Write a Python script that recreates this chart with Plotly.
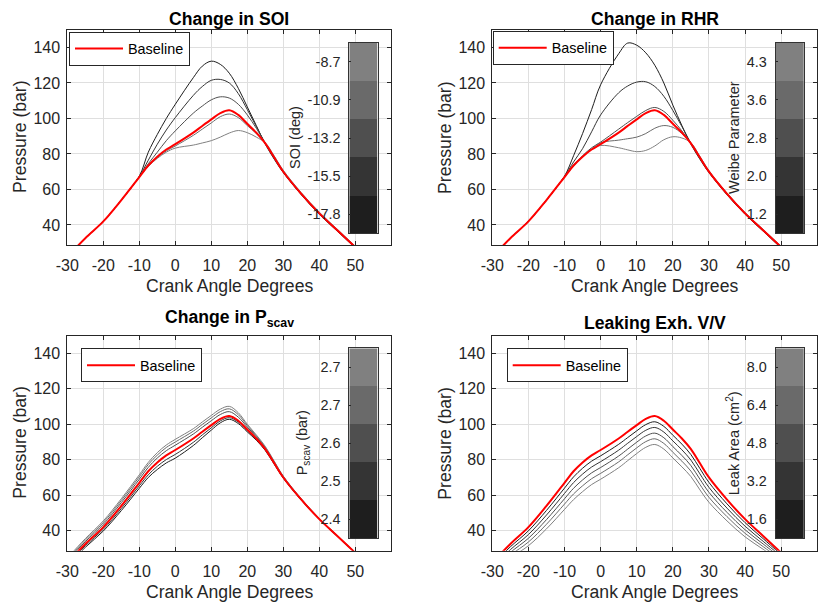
import plotly.graph_objects as go

# ---------------- data ----------------
ANGLE = [-30, -25, -20, -15, -10, -7.5, -5, -2.5, 0, 5, 7.5, 10, 12.5, 15, 17.5, 20, 22.5, 25, 27.5, 30, 35, 40, 45, 50]
BASELINE = [22, 32.5, 42, 54, 67, 73.5, 78.5, 82.5, 85.5, 92, 95.8, 99.5, 103, 104.6, 102, 97, 92, 86, 78, 70, 57.5, 46.5, 37, 27.5]

# Change in SOI (deg)
SOI_LABELS = ["-17.8", "-15.5", "-13.2", "-10.9", "-8.7"]
SOI_M17_8 = [22, 32.5, 42, 54, 67.5, 81, 91, 100, 108, 123, 129.5, 132.3, 130.5, 125.5, 117, 106.5, 96, 85.5, 77, 69.5, 57, 46, 36.5, 27]
SOI_M15_5 = [22, 32.5, 42, 54, 67.3, 76.5, 85.5, 93.5, 100.5, 113, 118, 121.5, 122, 120, 114, 105, 95.5, 86, 77.5, 69.7, 57.2, 46.2, 36.7, 27.2]
SOI_M13_2 = [22, 32.5, 42, 54, 67.2, 74.5, 81, 87.5, 93, 103, 107, 110.5, 112.2, 111.5, 108, 102, 94.5, 86, 77.8, 69.9, 57.4, 46.4, 36.9, 27.4]
SOI_M10_9 = [22, 32.5, 42, 54, 67, 73.2, 78, 81.7, 84.5, 90.5, 94, 97.5, 101, 102.5, 100.5, 96, 91.5, 86, 78.3, 70.3, 57.8, 46.8, 37.3, 27.8]
SOI_M8_7 = [22, 32.5, 42, 54, 67, 73, 77.5, 81, 83.3, 85, 86.2, 87.5, 89.5, 91.8, 93.2, 92, 89.5, 86.3, 78.8, 70.8, 58.2, 47.2, 37.6, 28]

# Change in RHR (Weibe parameter)
RHR_LABELS = ["1.2", "2.0", "2.8", "3.6", "4.3"]
RHR_1_2 = [22, 32.5, 42, 54, 67.5, 79, 91.5, 105, 119, 136.5, 142.5, 141.3, 137, 130, 120, 107.5, 96, 85.5, 77, 69.5, 57, 46, 36.5, 27]
RHR_2_0 = [22, 32.5, 42, 54, 67.3, 75.5, 83, 92.5, 102, 114.5, 118.3, 120.5, 120.7, 118, 112.5, 104.5, 95.5, 86, 77.5, 69.7, 57.2, 46.2, 36.7, 27.2]
RHR_2_8 = [22, 32.5, 42, 54, 67.2, 73.8, 79, 83.5, 86.7, 94, 97.7, 101.2, 104.5, 106.2, 104, 99, 93, 86, 77.8, 69.9, 57.4, 46.4, 36.9, 27.4]
RHR_3_6 = [22, 32.5, 42, 54, 67, 73.3, 78.5, 82.8, 86.3, 87.8, 88.6, 89.5, 91.5, 94.5, 96, 95, 91.5, 86.3, 78.3, 70.3, 57.8, 46.8, 37.3, 27.8]
RHR_4_3 = [22, 32.5, 42, 54, 67, 73.3, 78.5, 82.5, 84.8, 83.5, 82.3, 81.3, 82, 84.5, 88, 89.7, 89, 86.3, 78.6, 70.6, 58, 47, 37.5, 28]

# Change in P_scav (bar)
PSCAV_LABELS = ["2.4", "2.5", "2.6", "2.7", "2.7"]
PSCAV_2_4 = [20.4, 30.6, 39.8, 51.3, 63.9, 70, 74.5, 78.2, 80.9, 88, 92.4, 96.7, 100.8, 102.8, 100.4, 95.7, 91, 85.2, 77.4, 69.6, 57.2, 46.3, 36.8, 27.4]
PSCAV_2_5 = [21.1, 31.5, 40.8, 52.5, 65.3, 71.5, 76.3, 80.1, 83, 89.8, 94, 98, 101.9, 103.7, 101.2, 96.3, 91.5, 85.6, 77.7, 69.8, 57.3, 46.4, 36.9, 27.4]
PSCAV_2_6 = [23.1, 33.8, 43.5, 55.8, 69, 75.7, 81, 85.1, 88.2, 94.5, 98.3, 102, 105.5, 107.1, 104, 98.4, 92.9, 86.7, 78.5, 70.4, 57.7, 46.7, 37.1, 27.6]
PSCAV_2_7a = [23.9, 34.7, 44.6, 57, 70.4, 77.3, 82.6, 86.9, 90, 96.1, 99.9, 103.6, 107.1, 108.7, 105.4, 99.3, 93.5, 87.1, 78.8, 70.6, 57.9, 46.8, 37.2, 27.6]
PSCAV_2_7b = [24.5, 35.5, 45.5, 58, 71.5, 78.5, 84, 88.3, 91.5, 97.5, 101.3, 105, 108.5, 110.1, 106.5, 100, 94, 87.5, 79.1, 70.8, 58, 46.9, 37.3, 27.7]

# Leaking exhaust valve (leak area cm^2)
LEAK_LABELS = ["1.6", "3.2", "4.8", "6.4", "8.0"]
LEAK_1_6 = [20.7, 30.9, 39.9, 51.4, 64, 70.3, 75.2, 79.2, 82.2, 88.7, 92.5, 96.3, 99.8, 101.4, 98.8, 93.8, 88.8, 82.9, 75, 67.2, 55.1, 44.5, 35.5, 26.5]
LEAK_3_2 = [19.4, 29.3, 37.8, 48.8, 61, 67.1, 71.9, 75.9, 78.9, 85.4, 89.3, 93.1, 96.6, 98.2, 95.6, 90.6, 85.6, 79.8, 72, 64.4, 52.7, 42.5, 34, 25.5]
LEAK_4_8 = [18.1, 27.7, 35.7, 46.2, 58, 63.9, 68.6, 72.6, 75.6, 82.1, 86, 89.9, 93.4, 95, 92.4, 87.4, 82.4, 76.7, 69, 61.6, 50.3, 40.5, 32.5, 24.5]
LEAK_6_4 = [16.8, 26.1, 33.6, 43.6, 55, 60.7, 65.3, 69.3, 72.3, 78.8, 82.8, 86.7, 90.2, 91.8, 89.2, 84.2, 79.2, 73.6, 66, 58.8, 47.9, 38.5, 31, 23.5]
LEAK_8_0 = [15.5, 24.5, 31.5, 41, 52, 57.5, 62, 66, 69, 75.5, 79.5, 83.5, 87, 88.6, 86, 81, 76, 70.5, 63, 56, 45.5, 36.5, 29.5, 22.5]

X_TICKS = [-30, -20, -10, 0, 10, 20, 30, 40, 50]
Y_TICKS = [40, 60, 80, 100, 120, 140]

# ---------------- styling / layout ----------------
W, H = 819, 608
FONT = "Liberation Sans, Arial, Helvetica, sans-serif"
AX_COL = "#262626"
GRID_COL = "#dfdfdf"
GREYS = ["#1e1e1e", "#343434", "#4f4f4f", "#6a6a6a", "#808080"]
CB_SCALE = [[0.0, GREYS[0]], [0.25, GREYS[1]], [0.5, GREYS[2]], [0.75, GREYS[3]], [1.0, GREYS[4]]]


def fx(p):
    return p / W


def fy(p):
    return 1 - p / H


panels = [
    dict(series=[SOI_M17_8, SOI_M15_5, SOI_M13_2, SOI_M10_9, SOI_M8_7], labels=SOI_LABELS,
         title="<b>Change in SOI</b>", title_y=19, cbtitle="SOI (deg)",
         ax=(67.3, 391.3), ay=(29.75, 245.0), cbx=(349.3, 377.7), cby=(42.7, 233.3),
         cbt_x=295, leg=(69, 31.7)),
    dict(series=[RHR_1_2, RHR_2_0, RHR_2_8, RHR_3_6, RHR_4_3], labels=RHR_LABELS,
         title="<b>Change in RHR</b>", title_y=19, cbtitle="Weibe Parameter",
         ax=(492.3, 817.3), ay=(29.75, 245.0), cbx=(775.7, 804.0), cby=(42.7, 233.3),
         cbt_x=734, leg=(492.7, 31.0)),
    dict(series=[PSCAV_2_4, PSCAV_2_5, PSCAV_2_6, PSCAV_2_7a, PSCAV_2_7b], labels=PSCAV_LABELS,
         title="<b>Change in P<sub>scav</sub></b>", title_y=318, cbtitle="P<sub>scav</sub> (bar)",
         ax=(67.3, 391.3), ay=(335.6, 550.7), cbx=(349.3, 377.7), cby=(348.3, 538.3),
         cbt_x=303, leg=(81, 348.3)),
    dict(series=[LEAK_1_6, LEAK_3_2, LEAK_4_8, LEAK_6_4, LEAK_8_0], labels=LEAK_LABELS,
         title="<b>Leaking Exh. V/V</b>", title_y=323.3, cbtitle="Leak Area (cm<sup>2</sup>)",
         ax=(492.3, 817.3), ay=(335.6, 550.7), cbx=(775.7, 804.0), cby=(348.3, 538.3),
         cbt_x=733, leg=(506.7, 348.3)),
]

fig = go.Figure()
layout = dict(
    width=W, height=H, margin=dict(l=0, r=0, t=0, b=0, autoexpand=False),
    paper_bgcolor="white", plot_bgcolor="white",
    font=dict(family=FONT, color=AX_COL),
    annotations=[], showlegend=True,
)

for i, p in enumerate(panels, start=1):
    xa, ya = f"x{i}", f"y{i}"
    cxa, cya = f"x{i + 4}", f"y{i + 4}"
    leg = "legend" if i == 1 else f"legend{i}"

    for s, col in zip(p["series"], GREYS):
        fig.add_trace(go.Scatter(x=ANGLE, y=s, mode="lines", line=dict(color=col, width=1, shape="spline"),
                                 showlegend=False, xaxis=xa, yaxis=ya, hoverinfo="skip"))
    fig.add_trace(go.Scatter(x=ANGLE, y=BASELINE, mode="lines", name="Baseline",
                             line=dict(color="#ff0000", width=2, shape="spline"),
                             legend=leg, xaxis=xa, yaxis=ya))

    # discrete colour bar drawn as a heatmap inside the axes
    fig.add_trace(go.Heatmap(z=[[k] for k in range(len(p["labels"]))], x=[0],
                             y=list(range(len(p["labels"]))), colorscale=CB_SCALE, zmin=0, zmax=4,
                             showscale=False, xaxis=cxa, yaxis=cya, hoverinfo="skip"))

    axis_common = dict(showline=True, linecolor=AX_COL, linewidth=1, mirror="ticks", ticks="inside",
                       ticklen=4, tickcolor=AX_COL, showgrid=True, gridcolor=GRID_COL, gridwidth=1,
                       zeroline=False, tickfont=dict(size=16, color=AX_COL, family=FONT),
                       fixedrange=True, automargin=False)
    layout[f"xaxis{i}"] = dict(axis_common, domain=[fx(p["ax"][0]), fx(p["ax"][1])], anchor=ya,
                               range=[-30, 60], tickmode="array", tickvals=X_TICKS,
                               ticktext=[str(v) for v in X_TICKS], ticklabelstandoff=6)
    layout[f"yaxis{i}"] = dict(axis_common, domain=[fy(p["ay"][1]), fy(p["ay"][0])], anchor=xa,
                               range=[28.7, 150], tickmode="array", tickvals=Y_TICKS,
                               ticktext=[str(v) for v in Y_TICKS], ticklabelstandoff=3)
    layout[f"xaxis{i + 4}"] = dict(domain=[fx(p["cbx"][0]), fx(p["cbx"][1])], anchor=cya,
                                   range=[-0.5, 0.5], showticklabels=False, ticks="", showgrid=False,
                                   zeroline=False, showline=True, mirror=True, linecolor="#333333",
                                   linewidth=1, fixedrange=True, automargin=False)
    layout[f"yaxis{i + 4}"] = dict(domain=[fy(p["cby"][1]), fy(p["cby"][0])], anchor=cxa, side="left",
                                   range=[-0.5, 4.5], tickmode="array", tickvals=list(range(5)),
                                   ticktext=p["labels"], ticks="inside", ticklen=2, tickcolor=AX_COL,
                                   showgrid=False, zeroline=False, showline=True, mirror=True,
                                   linecolor="#333333", linewidth=1, ticklabelstandoff=5,
                                   tickfont=dict(size=14.4, color=AX_COL, family=FONT),
                                   fixedrange=True, automargin=False)

    layout[leg] = dict(x=fx(p["leg"][0]), y=fy(p["leg"][1]), xanchor="left", yanchor="top",
                       bgcolor="white", bordercolor=AX_COL, borderwidth=1, itemwidth=48,
                       font=dict(size=14.4, color="black", family=FONT))

    cx = (p["ax"][0] + p["ax"][1]) / 2
    cy = (p["ay"][0] + p["ay"][1]) / 2
    layout["annotations"] += [
        dict(text=p["title"], x=fx(cx), y=fy(p["title_y"]), xref="paper", yref="paper",
             xanchor="center", yanchor="middle", showarrow=False,
             font=dict(size=17.6, color="black", family=FONT)),
        dict(text="Crank Angle Degrees", x=fx(cx), y=fy(p["ay"][1] + 41), xref="paper", yref="paper",
             xanchor="center", yanchor="middle", showarrow=False,
             font=dict(size=17.6, color=AX_COL, family=FONT)),
        dict(text="Pressure (bar)", x=fx(p["ax"][0] - 46.8), y=fy(cy), xref="paper", yref="paper",
             xanchor="center", yanchor="middle", showarrow=False, textangle=-90,
             font=dict(size=17.6, color=AX_COL, family=FONT)),
        dict(text=p["cbtitle"], x=fx(p["cbt_x"]), y=fy((p["cby"][0] + p["cby"][1]) / 2),
             xref="paper", yref="paper", xanchor="center", yanchor="middle", showarrow=False,
             textangle=-90, font=dict(size=14.5, color=AX_COL, family=FONT)),
    ]

fig.update_layout(**layout)
fig.write_html("out.html", config={"displayModeBar": False},
               post_script="document.body.style.margin='0px';")
